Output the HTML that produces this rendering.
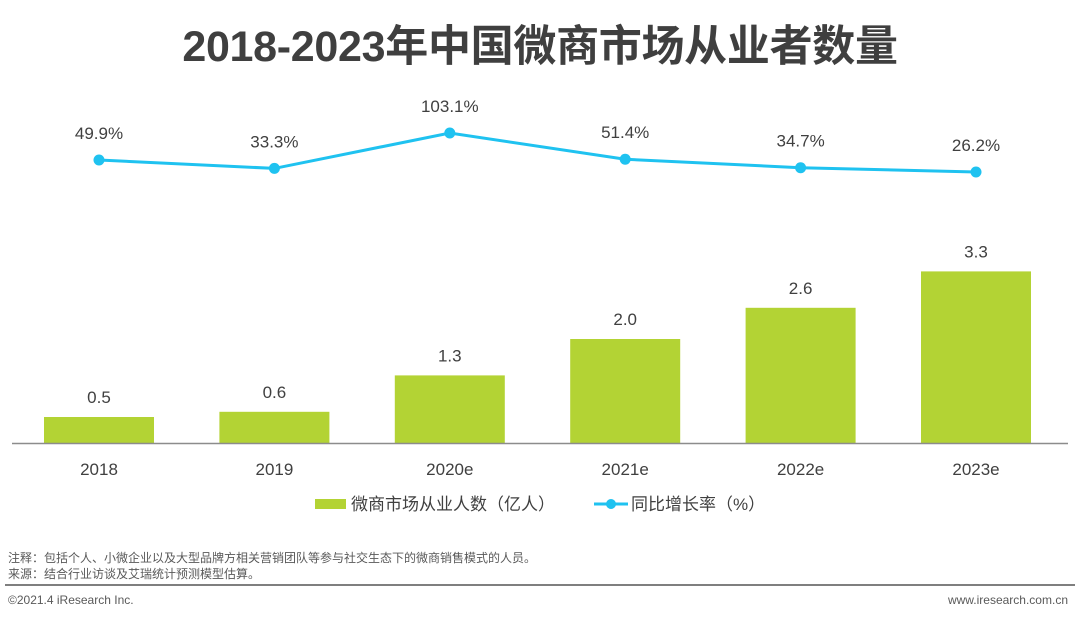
<!DOCTYPE html>
<html><head><meta charset="utf-8">
<style>
body{margin:0;width:1080px;height:621px;background:#fff;overflow:hidden;font-family:"Liberation Sans","Noto Sans CJK SC",sans-serif;color:#404040;position:relative}
.t{position:absolute;white-space:nowrap}
</style></head><body>
<div class="t" style="left:0;width:1080px;top:12px;text-align:center;font-size:43px;font-weight:bold;color:#3f3f3f;letter-spacing:-0.3px">2018-2023年中国微商市场从业者数量</div>
<svg id="c" width="1080" height="621" style="position:absolute;left:0;top:0"></svg>
<div class="t" style="left:8px;top:549px;font-size:12px;color:#595959">注释：包括个人、小微企业以及大型品牌方相关营销团队等参与社交生态下的微商销售模式的人员。</div>
<div class="t" style="left:8px;top:565px;font-size:12px;color:#595959">来源：结合行业访谈及艾瑞统计预测模型估算。</div>
<div style="position:absolute;left:5px;width:1070px;top:584px;height:2px;background:#7f7f7f"></div>
<div class="t" style="left:8px;top:593px;font-size:12px;color:#595959">©2021.4 iResearch Inc.</div>
<div class="t" style="right:12px;top:593px;font-size:12px;color:#595959">www.iresearch.com.cn</div>
<script>
const categories=["2018","2019","2020e","2021e","2022e","2023e"];
const barValues=[0.5,0.6,1.3,2.0,2.6,3.3];
const barLabels=["0.5","0.6","1.3","2.0","2.6","3.3"];
const growthValues=[49.9,33.3,103.1,51.4,34.7,26.2];
const growthLabels=["49.9%","33.3%","103.1%","51.4%","34.7%","26.2%"];
const NS="http://www.w3.org/2000/svg";
const svg=document.getElementById('c');
function xc(i){return 99+i*175.4;}
function yb(v){return 443-v*52;}
function yl(v){return 185.3-v*0.507;}
function mk(tag,attrs){const e=document.createElementNS(NS,tag);for(const k in attrs)e.setAttribute(k,attrs[k]);svg.appendChild(e);return e;}
barValues.forEach((v,i)=>{
 const r=mk('rect',{x:xc(i)-55,y:yb(v),width:110,height:443-yb(v),fill:'#b3d334'});
 
 
 const t=mk('text',{x:xc(i),y:yb(v)-14,'text-anchor':'middle','font-size':'17',fill:'#404040'});
 t.textContent=barLabels[i];
 
 
 const c=mk('text',{x:xc(i),y:475,'text-anchor':'middle','font-size':'17',fill:'#404040'});
 c.textContent=categories[i];
 
 
});
const ax=mk('line',{x1:12,x2:1068,y1:443.5,y2:443.5,stroke:'#8c8c8c','stroke-width':1.5});


const pl=mk('polyline',{points:growthValues.map((v,i)=>xc(i)+','+yl(v)).join(' '),fill:'none',stroke:'#1fc2f0','stroke-width':3});


growthValues.forEach((v,i)=>{
 const p=mk('circle',{cx:xc(i),cy:yl(v),r:5.5,fill:'#1fc2f0'});
 
 
 const t=mk('text',{x:xc(i),y:yl(v)-21,'text-anchor':'middle','font-size':'17',fill:'#404040'});
 t.textContent=growthLabels[i];
 
 
});
const ls=mk('rect',{x:315,y:499,width:31,height:10,fill:'#b3d334'});


const lt=mk('text',{x:351,y:510,'font-size':'17',fill:'#404040'});
lt.textContent='微商市场从业人数（亿人）';


const ll=mk('line',{x1:594,x2:628,y1:504,y2:504,stroke:'#1fc2f0','stroke-width':3});


const lc=mk('circle',{cx:611,cy:504,r:5,fill:'#1fc2f0'});


const lt2=mk('text',{x:631,y:510,'font-size':'17',fill:'#404040'});
lt2.textContent='同比增长率（%）';


</script>
</body></html>
